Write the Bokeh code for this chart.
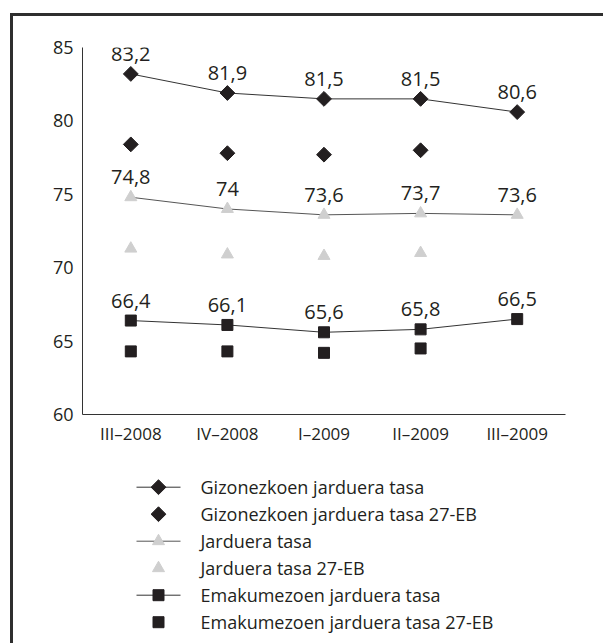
import math
from bokeh.plotting import figure
from bokeh.layouts import column
from bokeh.models import ColumnDataSource, FixedTicker, Range1d
from bokeh.core.properties import value
from bokeh.embed import file_html
from bokeh.resources import INLINE

quarters = ["III–2008", "IV–2008", "I–2009", "II–2009", "III–2009"]
men = [83.2, 81.9, 81.5, 81.5, 80.6]
men_eu = [78.4, 77.8, 77.7, 78.0]
total = [74.8, 74.0, 73.6, 73.7, 73.6]
total_eu = [71.3, 70.9, 70.8, 71.0]
women = [66.4, 66.1, 65.6, 65.8, 66.5]
women_eu = [64.3, 64.3, 64.2, 64.5]
y_ticks = [60, 65, 70, 75, 80, 85]
legend_labels = ["Gizonezkoen jarduera tasa", "Gizonezkoen jarduera tasa 27-EB",
                 "Jarduera tasa", "Jarduera tasa 27-EB",
                 "Emakumezoen jarduera tasa", "Emakumezoen jarduera tasa 27-EB"]

def fmt(v):
    s = ("%.1f" % v).rstrip("0").rstrip(".")
    return s.replace(".", ",")

FONT = "Open Sans"
DARK = "#231f20"
GRAY = "#cfcfcf"
LINE = "#333333"

# series styles: (marker, size, angle, color, line colour or None)
styles = [("square", 10.5, math.pi / 4, DARK, LINE),
          ("square", 10.5, math.pi / 4, DARK, None),
          ("triangle", 12, 0.0, GRAY, "#555555"),
          ("triangle", 12, 0.0, GRAY, None),
          ("square", 11, 0.0, DARK, LINE),
          ("square", 11, 0.0, DARK, None)]

W = 590
H1 = 450
H2 = 177
BL, BR = 69, 38

p = figure(width=W, height=H1, x_range=quarters, y_range=(60, 85),
           output_backend="svg", toolbar_location=None,
           min_border_left=BL, min_border_top=31, min_border_right=BR,
           min_border_bottom=H1 - 398)
p.outline_line_color = None
p.xgrid.grid_line_color = None
p.ygrid.grid_line_color = None

for ax in (p.xaxis, p.yaxis):
    ax.axis_line_color = LINE
    ax.axis_line_width = 1
    ax.major_tick_line_color = None
    ax.minor_tick_line_color = None
    ax.major_tick_out = 0
    ax.major_tick_in = 0
    ax.minor_tick_out = 0
    ax.major_label_text_font = FONT
    ax.major_label_text_color = DARK
p.yaxis.major_label_text_font_size = "18px"
p.xaxis.major_label_text_font_size = "17px"
p.yaxis.ticker = FixedTicker(ticks=y_ticks)
p.yaxis.major_label_standoff = 9
p.xaxis.major_label_standoff = 7

series = [men, men_eu, total, total_eu, women, women_eu]
for vals, (mk, sz, ang, col, lcol) in zip(series, styles):
    src = ColumnDataSource(dict(x=quarters[:len(vals)], y=vals,
                                t=[fmt(v) for v in vals]))
    if lcol:
        p.line("x", "y", source=src, line_color=lcol, line_width=1)
    p.scatter("x", "y", source=src, marker=mk, size=sz, angle=ang,
              fill_color=col, line_color=col)
    if lcol:
        p.text("x", "y", text="t", source=src, text_align="center",
               text_baseline="bottom", y_offset=-13,
               text_font=value(FONT), text_font_size="20px", text_color=DARK)

# legend panel: a second figure whose data units are canvas pixels (y downward)
q = figure(width=W, height=H2, x_range=Range1d(BL, W - BR), y_range=Range1d(H2, 0),
           output_backend="svg", toolbar_location=None,
           x_axis_location=None, y_axis_location=None,
           min_border_left=BL, min_border_right=BR, min_border_top=0,
           min_border_bottom=0)
q.xgrid.grid_line_color = None
q.ygrid.grid_line_color = None
q.outline_line_color = None

ROW0, PITCH = 20.7, 27.0
GX0, GX1, TX = 123, 167, 187
for i, (label, (mk, sz, ang, col, lcol)) in enumerate(zip(legend_labels, styles)):
    yy = ROW0 + i * PITCH
    if lcol:
        q.line([GX0, GX1], [yy, yy], line_color=lcol, line_width=1)
    q.scatter([(GX0 + GX1) / 2], [yy], marker=mk, size=sz, angle=ang,
              fill_color=col, line_color=col)
    q.text([TX], [yy], text=[label], text_align="left", text_baseline="middle",
           text_font=value(FONT), text_font_size="18px", text_color=DARK)

layout = column(p, q, spacing=0)
layout.styles = {"margin-left": "10px", "margin-top": "13px",
                 "border-left": "3px solid #2e2e2e", "border-top": "3px solid #2e2e2e"}

open("out.html", "w").write(file_html(layout, INLINE))
